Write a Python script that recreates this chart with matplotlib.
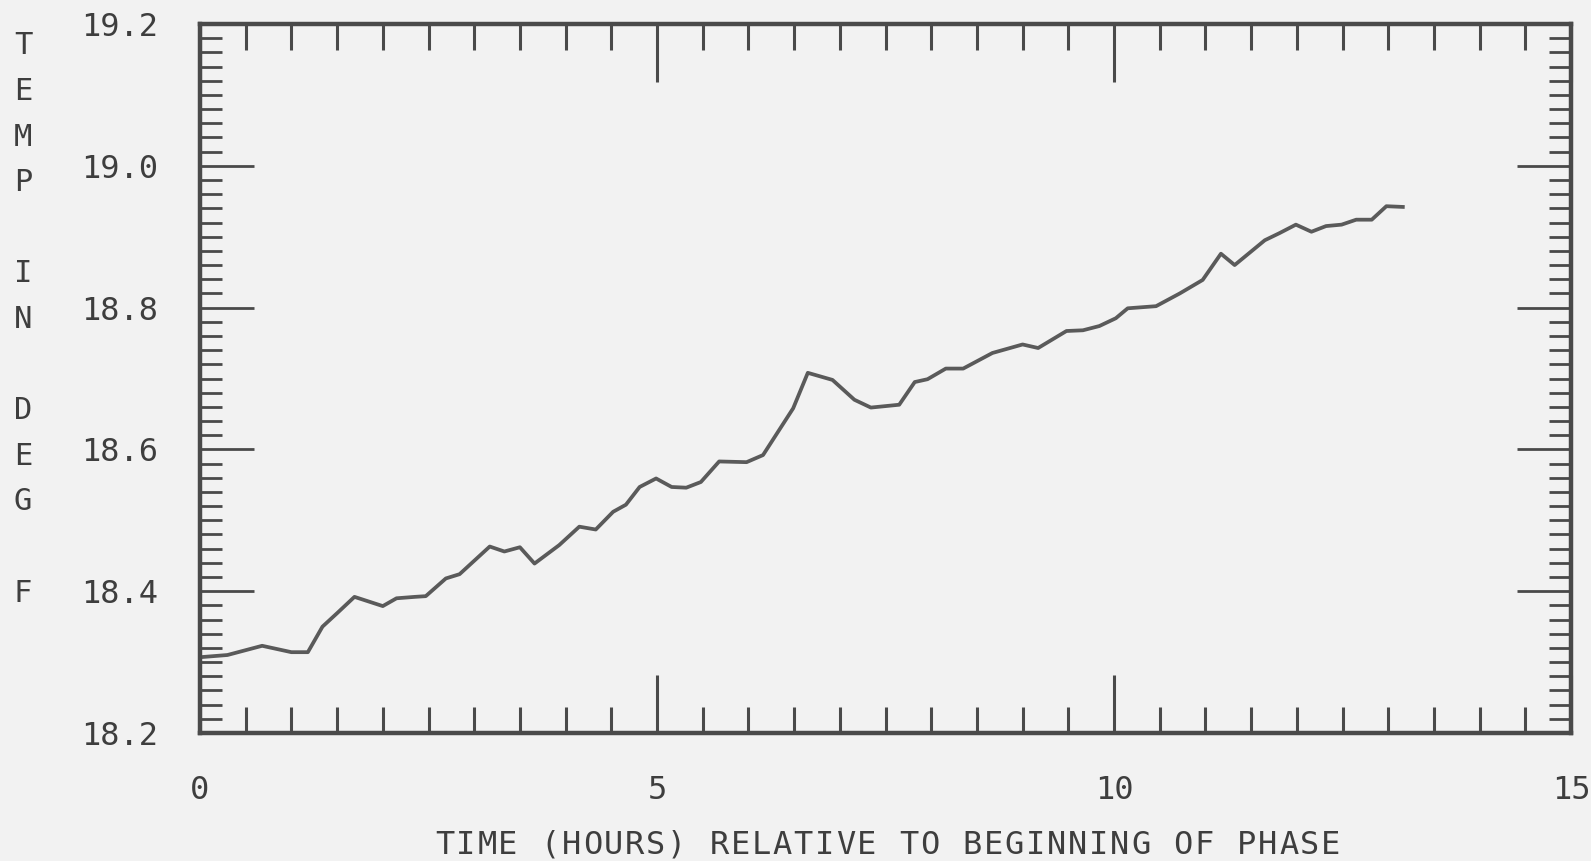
import numpy as np
import matplotlib
matplotlib.use('Agg')
import matplotlib.pyplot as plt
from matplotlib.ticker import MultipleLocator, FormatStrFormatter

# containment temperature trace, hours since start of phase
hours = [0.01, 0.30, 0.68, 1.00, 1.18, 1.34, 1.50, 1.69, 2.00, 2.15,
         2.35, 2.47, 2.69, 2.84, 3.17, 3.33, 3.50, 3.66, 3.93, 4.15,
         4.33, 4.52, 4.66, 4.81, 4.99, 5.16, 5.32, 5.48, 5.68, 5.98,
         6.16, 6.49, 6.65, 6.92, 7.16, 7.34, 7.65, 7.82, 7.96, 8.16,
         8.35, 8.67, 9.00, 9.17, 9.48, 9.66, 9.84, 10.02, 10.15, 10.46,
         10.72, 10.97, 11.17, 11.32, 11.65, 11.81, 11.99, 12.16, 12.32, 12.49,
         12.65, 12.82, 12.98, 13.16]
temps = [18.307, 18.310, 18.323, 18.314, 18.314, 18.350, 18.369, 18.392, 18.379, 18.390,
         18.392, 18.393, 18.418, 18.424, 18.463, 18.456, 18.462, 18.439, 18.465, 18.491,
         18.487, 18.512, 18.522, 18.547, 18.559, 18.547, 18.546, 18.554, 18.583, 18.582,
         18.592, 18.658, 18.708, 18.698, 18.670, 18.659, 18.663, 18.695, 18.699, 18.714,
         18.714, 18.736, 18.748, 18.743, 18.767, 18.768, 18.774, 18.785, 18.799, 18.802,
         18.820, 18.839, 18.876, 18.860, 18.895, 18.905, 18.917, 18.907, 18.915, 18.917,
         18.924, 18.924, 18.943, 18.942]

x_label = "TIME (HOURS) RELATIVE TO BEGINNING OF PHASE"
y_label = "TEMP IN DEG F"

W, H = 1591, 861
BG = '#f2f2f2'
INK = '#4a4a4a'
TXT = '#3e3e3e'
FONT = 'DejaVu Sans Mono'


def spaced_text(fig, s, x0, y0, dx, dy, size):
    # plotter-style lettering: one glyph per fixed cell, pixel coordinates
    for i, ch in enumerate(s):
        if ch == ' ':
            continue
        fig.text((x0 + i * dx) / W, 1 - (y0 + i * dy) / H, ch,
                 ha='center', va='center', fontsize=size,
                 family=FONT, color=TXT)


def main():
    fig = plt.figure(figsize=(W / 100, H / 100), dpi=100, facecolor=BG)
    ax = fig.add_axes([200 / W, 1 - 733 / H, 1371 / W, 709 / H], facecolor=BG)

    ax.plot(hours, temps, color='#5a5a5a', lw=2.7, solid_joinstyle='round')

    ax.set_xlim(0, 15)
    ax.set_ylim(18.2, 19.2)
    ax.xaxis.set_major_locator(MultipleLocator(5))
    ax.xaxis.set_minor_locator(MultipleLocator(0.5))
    ax.yaxis.set_major_locator(MultipleLocator(0.2))
    ax.yaxis.set_minor_locator(MultipleLocator(0.02))
    ax.yaxis.set_major_formatter(FormatStrFormatter('%.1f'))

    ax.tick_params(which='both', direction='in', top=True, right=True,
                   color=INK, labelcolor=TXT)
    ax.tick_params(axis='x', which='major', length=42, width=2.2, pad=30)
    ax.tick_params(axis='x', which='minor', length=19, width=2.2)
    ax.tick_params(axis='y', which='major', length=39, width=2, pad=30)
    ax.tick_params(axis='y', which='minor', length=16, width=2)
    for lab in ax.get_xticklabels() + ax.get_yticklabels():
        lab.set_family(FONT)
        lab.set_fontsize(23)

    for sp in ax.spines.values():
        sp.set_color(INK)
        sp.set_linewidth(3.2)

    spaced_text(fig, x_label, 434 + 10.6, 845, 21.1, 0, 23)
    spaced_text(fig, y_label, 23, 46, 0, 45.6, 22)

    fig.savefig('out.png', dpi=100, facecolor=BG)


if __name__ == "__main__":
    main()
